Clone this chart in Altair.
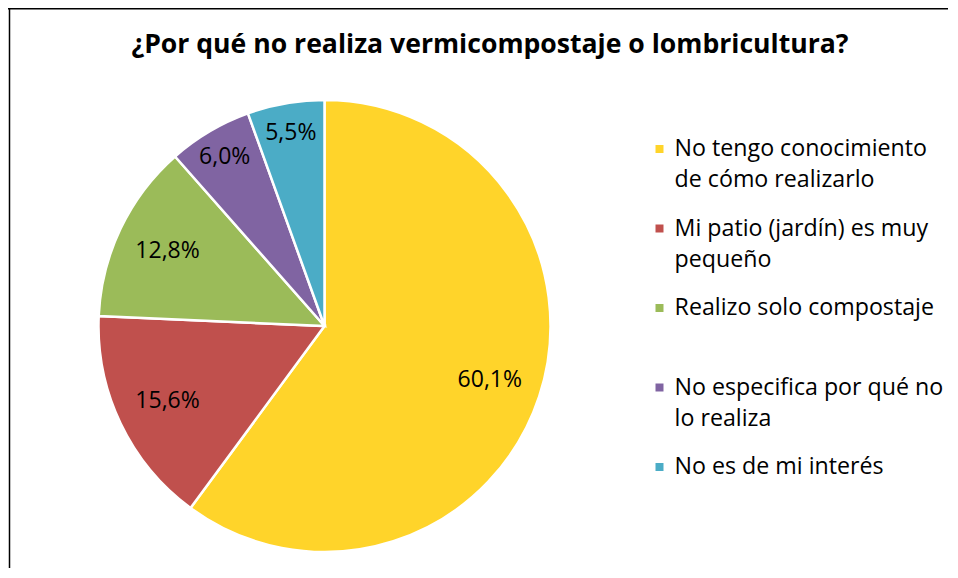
import altair as alt
import pandas as pd

# ---- data ----
categories = [
    "No tengo conocimiento de cómo realizarlo",
    "Mi patio (jardín) es muy pequeño",
    "Realizo solo compostaje",
    "No especifica por qué no lo realiza",
    "No es de mi interés",
]
legend_labels = [
    "No tengo conocimiento\nde cómo realizarlo",
    "Mi patio (jardín) es muy\npequeño",
    "Realizo solo compostaje",
    "No especifica por qué no\nlo realiza",
    "No es de mi interés",
]
values = [60.1, 15.6, 12.8, 6.0, 5.5]
colors = ["#FFD42A", "#C0504D", "#9BBB59", "#8064A2", "#4BACC6"]
title_text = "¿Por qué no realiza vermicompostaje o lombricultura?"

df = pd.DataFrame({
    "cat": categories,
    "legend": legend_labels,
    "value": values,
    "idx": list(range(len(categories))),
})
df["label"] = [f"{v:.1f}".replace(".", ",") + "%" for v in values]

# ---- layout ----
W, H = 940, 560
CX, CY, R = 316.5, 318, 226
FONT = "Open Sans"

color = alt.Color("cat:N", scale=alt.Scale(domain=categories, range=colors), legend=None)
theta = alt.Theta("value:Q", stack=True)
order = alt.Order("idx:Q", sort="ascending")
base = alt.Chart(df)

pie = base.mark_arc(outerRadius=R, stroke="white", strokeWidth=2.5).encode(
    theta=theta, order=order, color=color, x=alt.value(CX), y=alt.value(CY)
)

labels_big = base.mark_text(radius=174, font=FONT, fontSize=23, color="black").encode(
    theta=theta, order=order, x=alt.value(CX), y=alt.value(CY),
    text=alt.condition("datum.value >= 10", "label:N", alt.value("")),
)
labels_small = base.mark_text(radius=196, font=FONT, fontSize=23, color="black").encode(
    theta=theta, order=order, x=alt.value(CX), y=alt.value(CY),
    text=alt.condition("datum.value < 10", "label:N", alt.value("")),
)

ypos = alt.Y(
    "cat:N", sort=categories, axis=None,
    scale=alt.Scale(type="point", range=[141, 459], padding=0),
)
swatches = base.mark_square(size=64, opacity=1).encode(
    x=alt.value(651.5), y=ypos, color=color
)
legend_text = base.mark_text(
    align="left", baseline="alphabetic", dy=7, font=FONT, fontSize=23.2,
    lineBreak="\n", lineHeight=31, color="black",
).encode(x=alt.value(666.6), y=ypos, text="legend:N")

frame = base.transform_filter("datum.idx == 0")
top_rule = frame.mark_rule(color="black", strokeWidth=1.5).encode(
    x=alt.value(0), x2=alt.value(W + 20), y=alt.value(0.75)
)
left_rule = frame.mark_rule(color="black", strokeWidth=1.5).encode(
    x=alt.value(1.5), y=alt.value(0), y2=alt.value(H + 20)
)

chart = alt.layer(
    pie, labels_big, labels_small, swatches, legend_text, top_rule, left_rule
).properties(
    width=W,
    height=H,
    title=alt.Title(
        title_text, font=FONT, fontSize=26.6, fontWeight="bold", color="black",
        anchor="middle", baseline="alphabetic", offset=0, dy=72, dx=12,
    ),
    autosize=alt.AutoSizeParams(type="none"),
    padding=0,
    background="white",
).configure_view(stroke=None)

chart.save("out.html", embed_options={"renderer": "svg", "actions": False})
